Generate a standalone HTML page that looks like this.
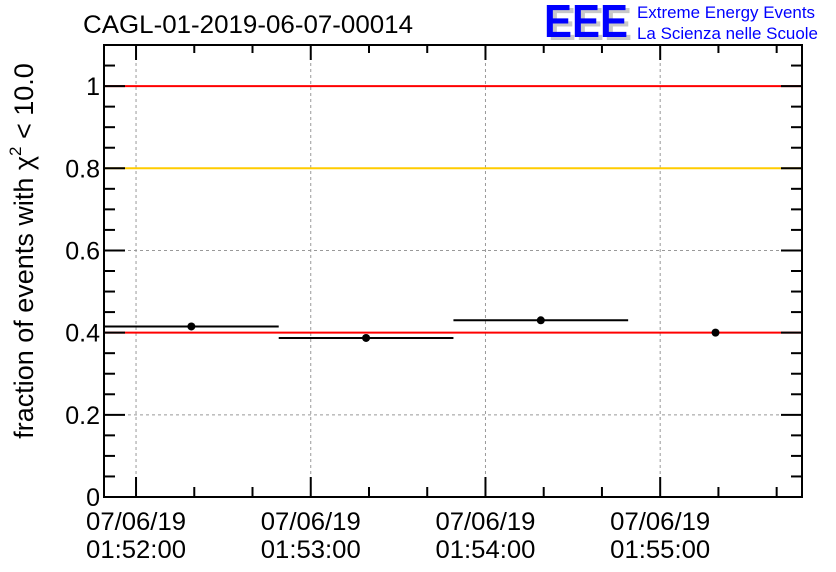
<!DOCTYPE html>
<html><head><meta charset="utf-8"><style>
body{margin:0;background:#fff;}
svg{display:block;font-family:"Liberation Sans",sans-serif;}
</style></head><body>
<svg id="chart" width="836" height="572" viewBox="0 0 836 572">
<text x="83" y="33" font-size="25" textLength="330" lengthAdjust="spacingAndGlyphs">CAGL-01-2019-06-07-00014</text>
<g>
<text x="548" y="40" font-size="46" font-weight="bold" fill="#c8c8c8" textLength="84" lengthAdjust="spacingAndGlyphs">EEE</text>
<text x="544" y="37" font-size="46" font-weight="bold" fill="#0000ff" textLength="84" lengthAdjust="spacingAndGlyphs">EEE</text>
<text x="637" y="18" font-size="17" fill="#0000ff" textLength="178" lengthAdjust="spacingAndGlyphs">Extreme Energy Events</text>
<text x="637" y="39" font-size="17" fill="#0000ff" textLength="181" lengthAdjust="spacingAndGlyphs">La Scienza nelle Scuole</text>
</g>
<text transform="translate(33,251) rotate(-90)" text-anchor="middle" font-size="27">fraction of events with χ<tspan dy="-12" font-size="17">2</tspan><tspan dy="12"> &lt; 10.0</tspan></text>
<g id="grid"></g><g id="refs"></g><g id="marks"></g><g id="axes"></g>
<rect x="104" y="45" width="698" height="452" fill="none" stroke="#000" stroke-width="2"/>
</svg>
<script>
const binCenters=[19,79,139,199];      // seconds after 01:52:00
const binHalfWidths=[30,30,30,0];
const fractions=[0.415,0.387,0.430,0.400];
const errors=[0.005,0.005,0.005,0.005];
const refValues=[1.0,0.8,0.4];
const refColors=['#ff0000','#ffcc00','#ff0000'];
const yTicks=[0,0.2,0.4,0.6,0.8,1];
const yTickLabels=['0','0.2','0.4','0.6','0.8','1'];
const xTicks=[0,60,120,180];
const xDateLabels=['07/06/19','07/06/19','07/06/19','07/06/19'];
const xTimeLabels=['01:52:00','01:53:00','01:54:00','01:55:00'];
const L=104,R=802,T=45,B=497,xMin=-11,xMax=228.7,yMin=0,yMax=1.1;
const X=v=>L+(v-xMin)/(xMax-xMin)*(R-L);
const Y=v=>B-(v-yMin)/(yMax-yMin)*(B-T);
const NS='http://www.w3.org/2000/svg';
function mk(p,tag,at){const e=document.createElementNS(NS,tag);for(const k in at)e.setAttribute(k,at[k]);document.getElementById(p).appendChild(e);return e;}
yTicks.forEach((t,i)=>{
  if(t>0&&t<1){const g=mk('grid','line',{x1:L,x2:R,y1:Y(t),y2:Y(t),stroke:'#999','stroke-dasharray':'3,3'});
  
  }
  const lb=mk('axes','text',{x:L-4,y:Y(t)+9,'text-anchor':'end','font-size':25});lb.textContent=yTickLabels[i];
  
  
});
for(let v=0;v<=1.1001;v+=0.05){const maj=Math.abs(v/0.2-Math.round(v/0.2))<1e-6;const len=maj?21:11;
  mk('axes','line',{x1:L,x2:L+len,y1:Y(v),y2:Y(v),stroke:'#000','stroke-width':2});
  mk('axes','line',{x1:R,x2:R-len,y1:Y(v),y2:Y(v),stroke:'#000','stroke-width':2});}
xTicks.forEach((t,i)=>{
  const g=mk('grid','line',{x1:X(t),x2:X(t),y1:T,y2:B,stroke:'#999','stroke-dasharray':'3,3'});
  
  
  const a=mk('axes','text',{x:X(t),y:530,'text-anchor':'middle','font-size':25,textLength:100,lengthAdjust:'spacingAndGlyphs'});a.textContent=xDateLabels[i];
  
  
  const b=mk('axes','text',{x:X(t),y:558,'text-anchor':'middle','font-size':25,textLength:100,lengthAdjust:'spacingAndGlyphs'});b.textContent=xTimeLabels[i];
  
  
});
for(let s=0;s<=xMax;s+=20){const maj=s%60===0;
  mk('axes','line',{x1:X(s),x2:X(s),y1:B,y2:B-(maj?20:10),stroke:'#000','stroke-width':2});
  mk('axes','line',{x1:X(s),x2:X(s),y1:T,y2:T+(maj?15:8),stroke:'#000','stroke-width':2});}
refValues.forEach((v,i)=>{const l=mk('refs','line',{x1:L,x2:R,y1:Y(v),y2:Y(v),stroke:refColors[i],'stroke-width':2});
  
  });
fractions.forEach((f,i)=>{
  const c=binCenters[i],h=binHalfWidths[i];
  if(h>0){const l=mk('marks','line',{x1:X(c-h),x2:X(c+h),y1:Y(f),y2:Y(f),stroke:'#000','stroke-width':2});
    
    }
  mk('marks','line',{x1:X(c),x2:X(c),y1:Y(f-errors[i]),y2:Y(f+errors[i]),stroke:'#000','stroke-width':2});
  const p=mk('marks','circle',{cx:X(c),cy:Y(f),r:4,fill:'#000'});
  
  
});
</script>
</body></html>
